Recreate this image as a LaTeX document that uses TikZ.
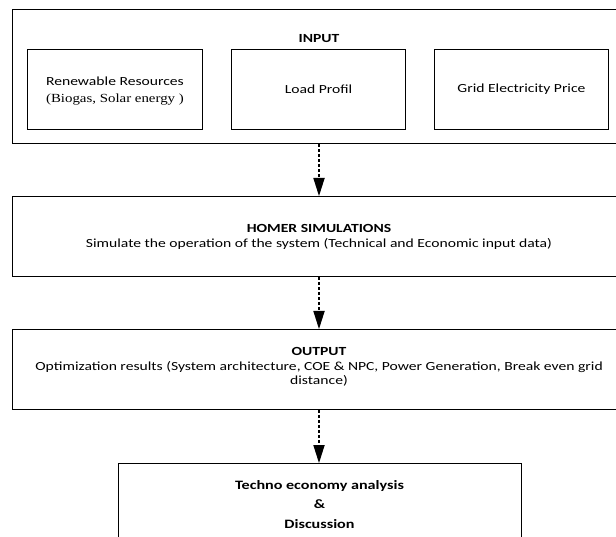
\documentclass[tikz,border=0pt]{standalone}
\usepackage{fontspec}
\setmainfont{Carlito}[FakeStretch=1.26]
\newfontfamily\tnr{Liberation Serif}[FakeStretch=1.2]
\usetikzlibrary{arrows.meta}
\tikzset{
  box/.style={draw=black, line width=0.9pt, inner sep=0pt, anchor=north west},
  txt/.style={font=\fontsize{12.4}{15}\selectfont, align=center, inner sep=0pt},
  flow/.style={line width=2pt, dash pattern=on 3pt off 2pt,
    -{Triangle[width=11.5pt,length=18pt,line width=0pt]}},
}
\begin{document}
\begin{tikzpicture}[x=1pt,y=-1pt]
\useasboundingbox[fill=white] (0,0) rectangle (616,537);
\clip (0,0) rectangle (616,537);
% input group
\node[box, minimum width=614pt, minimum height=134pt] (inp) at (12,9) {};
\node[txt, font=\fontsize{12.4}{15}\selectfont\bfseries] (inpt) at (319,39) {INPUT};
\node[box, minimum width=175pt, minimum height=80pt] (ren) at (27,49) {};
\node[box, minimum width=174pt, minimum height=80pt] (load) at (231,49) {};
\node[box, minimum width=174pt, minimum height=80pt] (grid) at (434,49) {};
\node[txt, font=\fontsize{12.4}{17}\selectfont] (rent) at (ren.center |- 0,91.5) {Renewable Resources\\{\tnr (Biogas, Solar energy )}};
\node[txt] (loadt) at (load.center) {Load Profil};
\node[txt] (gridt) at (grid.center) {Grid Electricity Price};
% homer
\node[box, minimum width=614pt, minimum height=80pt] (hom) at (12,196) {};
\node[txt] (homt) at (319,237) {\textbf{HOMER SIMULATIONS}\\Simulate the operation of the system (Technical and Economic input data)};
% output
\node[box, minimum width=614pt, minimum height=80pt] (out) at (12,329) {};
\node[txt, font=\fontsize{12.4}{14.5}\selectfont] (outt) at (319,367) {\textbf{OUTPUT}\\Optimization results (System architecture, COE \& NPC, Power Generation, Break even grid\\distance)};
% final
\node[box, minimum width=403pt, minimum height=110pt] (fin) at (118,463) {};
\node[txt, font=\fontsize{12.8}{19.5}\selectfont\bfseries] (fint) at (319.5,504.5) {Techno economy analysis\\\&\\Discussion};
% arrows
\draw[flow] (inp.south -| inpt) -- (hom.north -| inpt);
\draw[flow] (hom.south -| inpt) -- (out.north -| inpt);
\draw[flow] (out.south -| inpt) -- (fin.north -| inpt);
\end{tikzpicture}
\end{document}
